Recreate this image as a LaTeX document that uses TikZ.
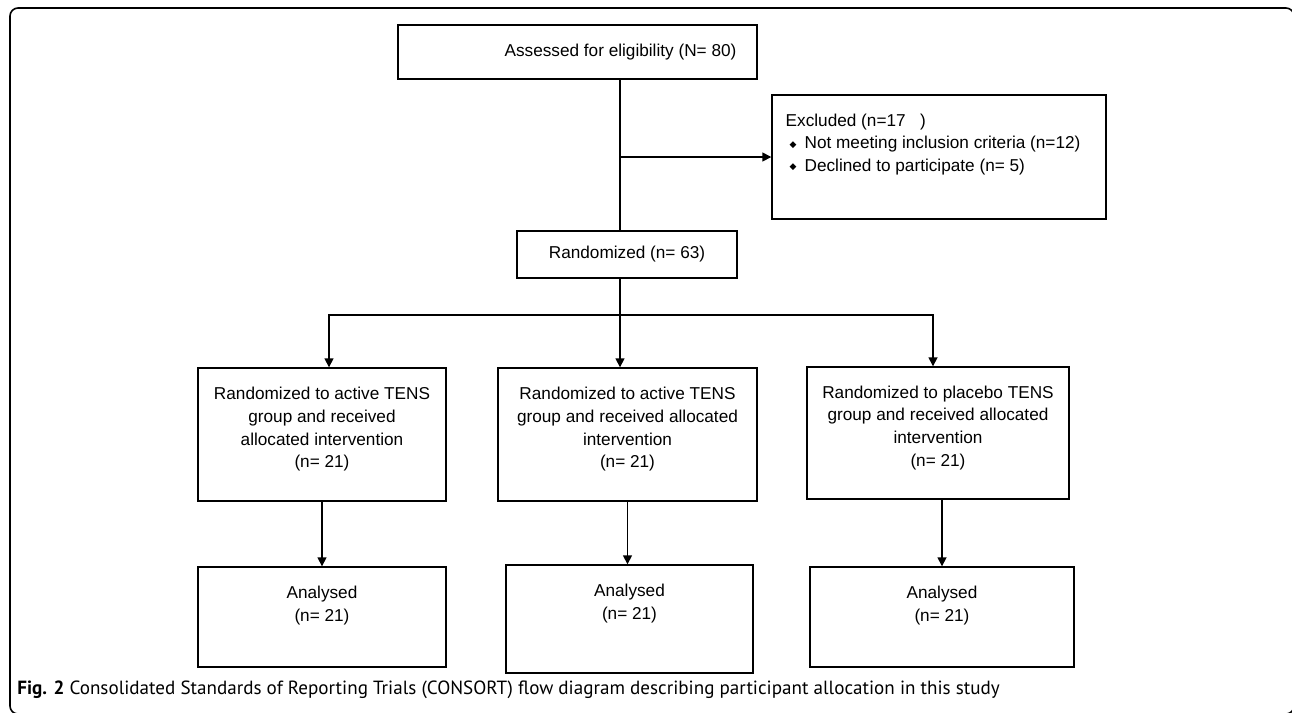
\documentclass[tikz,border=0pt]{standalone}
\usepackage{fontspec}
\setmainfont{Liberation Sans}
\newfontfamily\capfont{PT Sans}
\newfontfamily\symfont{DejaVu Sans}
\usetikzlibrary{arrows.meta}

\newcommand{\exbullet}{{\symfont\fontsize{4.5pt}{4.5pt}\selectfont\raisebox{0.8pt}{◆}}}

\begin{document}
\begin{tikzpicture}[x=0.5pt, y=-0.5pt,
  block/.style={draw, line width=0.7pt, align=center, inner sep=0pt, font=\fontsize{8.6pt}{11.3pt}\selectfont},
  flow/.style={line width=0.8pt, -{Triangle[length=4.5pt, width=4.5pt]}}]

  \useasboundingbox (0,0) rectangle (1292,713);

  % Frame
  \draw[line width=0.8pt, rounded corners=4pt] (10,8) rectangle (1294,714);

  % Top row
  \node[block, minimum width=179.5pt, minimum height=27pt] (elig) at (577.5,52) {\hspace*{43pt}Assessed for eligibility (N= 80)};
  \node[block, minimum width=167pt, minimum height=62pt] (excl) at (939,157) {};
  \node[anchor=north west, align=left, inner sep=0pt, font=\fontsize{8.6pt}{11.3pt}\selectfont] (excltext) at ([xshift=7pt, yshift=-9.5pt]excl.north west)
    {Excluded (n=17\ \ \ )\\
     \hspace{2pt}\exbullet\hspace{4pt}Not meeting inclusion criteria (n=12)\\
     \hspace{2pt}\exbullet\hspace{4pt}Declined to participate (n= 5)};

  % Randomisation
  \node[block, minimum width=110pt, minimum height=23.5pt] (rand) at (627,254.5) {Randomized (n= 63)};

  % Branch points
  \coordinate (trunk) at (620,157);
  \coordinate (split) at (620,315);
  \coordinate (leftarm) at (329,315);
  \coordinate (rightarm) at (933,315);

  % Allocation
  \node[block, minimum width=124pt, minimum height=66.5pt] (arm1) at (322,434.5)
    {Randomized to active TENS\\group and received\\allocated intervention\\(n= 21)\\[-4.3pt]\mbox{}};
  \node[block, minimum width=129.5pt, minimum height=66.5pt] (arm2) at (627.5,434.5)
    {Randomized to active TENS\\group and received allocated\\intervention\\(n= 21)\\[-4.3pt]\mbox{}};
  \node[block, minimum width=131pt, minimum height=66pt] (arm3) at (938,433)
    {Randomized to placebo TENS\\group and received allocated\\intervention\\(n= 21)\\[-4.3pt]\mbox{}};

  % Analysis
  \node[block, minimum width=124pt, minimum height=50pt] (an1) at (322,617) {Analysed\\(n= 21)\\[2pt]\mbox{}};
  \node[block, minimum width=123.5pt, minimum height=54pt] (an2) at (629.5,619) {Analysed\\(n= 21)\\[6pt]\mbox{}};
  \node[block, minimum width=132pt, minimum height=50pt] (an3) at (942,617) {Analysed\\(n= 21)\\[2pt]\mbox{}};

  % Connectors
  \draw[line width=0.8pt] (trunk |- elig.south) -- (trunk |- rand.north);
  \draw[flow] (trunk) -- (excl.west);
  \draw[line width=0.8pt] (split |- rand.south) -- (split);
  \draw[flow] (split) -- (leftarm) -- (leftarm |- arm1.north);
  \draw[flow] (split) -- (split |- arm2.north);
  \draw[flow] (split) -- (rightarm) -- (rightarm |- arm3.north);
  \draw[flow] (an1.north |- arm1.south) -- (an1.north);
  \draw[flow] (arm2.south) -- (arm2.south |- an2.north);
  \draw[flow] (an3.north |- arm3.south) -- (an3.north);

  % Caption
  \node[anchor=west, inner sep=0pt, font=\capfont\fontsize{9.55pt}{11pt}\selectfont] (caption) at (17,690)
    {\textbf{Fig. 2} Consolidated Standards of Reporting Trials (CONSORT) flow diagram describing participant allocation in this study};

\end{tikzpicture}
\end{document}
